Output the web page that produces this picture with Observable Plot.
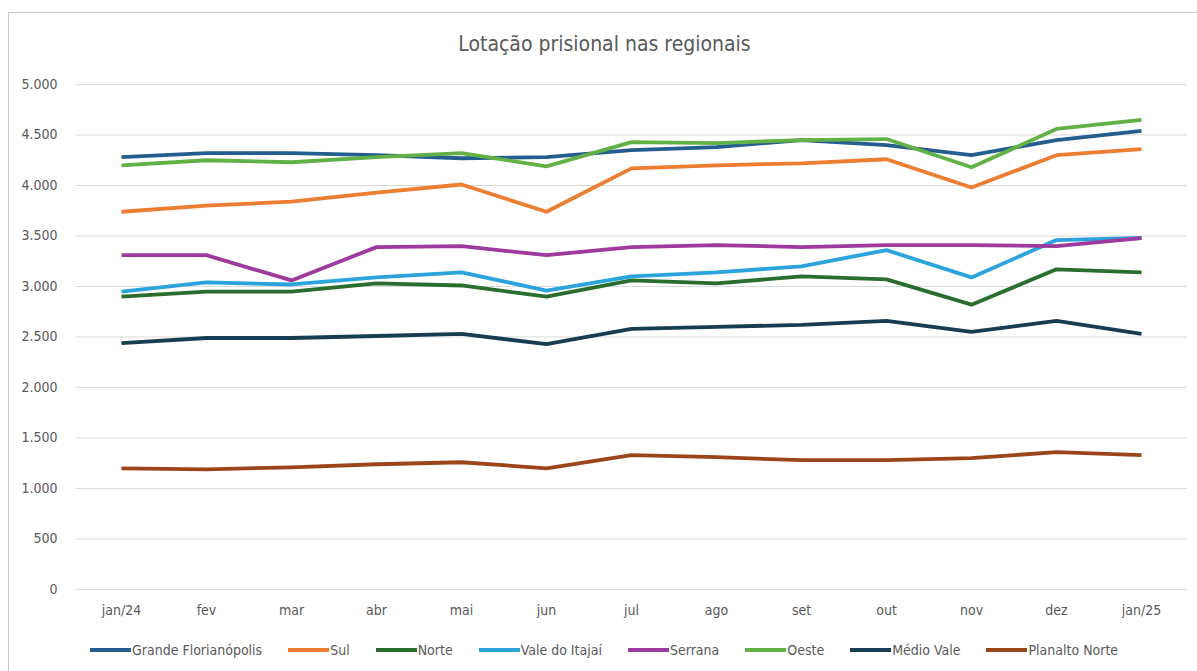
<!DOCTYPE html>
<html>
<head>
<meta charset="utf-8">
<script src="https://cdn.jsdelivr.net/npm/d3@7"></script>
<script src="https://cdn.jsdelivr.net/npm/@observablehq/plot@0.6"></script>
<style>
  html, body { margin: 0; padding: 0; background: #fff; }
  body { width: 1197px; height: 671px; overflow: hidden; position: relative;
         font-family: "Liberation Sans Narrow", "Arial Narrow", "DejaVu Sans Condensed", sans-serif; color: #595959; }
  #frame { position: absolute; left: 8px; top: 12px; width: 1200px; height: 700px; border: 1px solid #c8c8c8; box-sizing: border-box; }
  #title { position: absolute; top: 32px; left: 6px; width: 1197px; text-align: center; font-size: 21px; color: #595959; }
  #chart { position: absolute; left: 0; top: 60px; }
  #legend { position: absolute; top: 642px; left: 90px; display: flex; align-items: center; font-size: 14px; color: #595959; white-space: nowrap; }
  .item { display: flex; align-items: center; margin-right: 26px; }
  .sw { width: 41px; height: 4px; margin-right: 1px; }
</style>
</head>
<body>
<div id="frame"></div>
<div id="title">Lotação prisional nas regionais</div>
<div id="chart"></div>
<div id="legend"></div>
<script>
const months = ["jan/24","fev","mar","abr","mai","jun","jul","ago","set","out","nov","dez","jan/25"];
const seriesNames = ["Grande Florianópolis","Sul","Norte","Vale do Itajaí","Serrana","Oeste","Médio Vale","Planalto Norte"];
const seriesColors = ["#245e8f","#ed7d31","#2a6e2e","#2ba3dc","#9e3a9e","#62b146","#173d53","#9b461a"];

const grandeFlorianopolis = [4280,4320,4320,4300,4270,4280,4350,4380,4450,4400,4300,4450,4540];
const sul                 = [3740,3800,3840,3930,4010,3740,4170,4200,4220,4260,3980,4300,4360];
const norte               = [2900,2950,2950,3030,3010,2900,3060,3030,3100,3070,2820,3170,3140];
const valeDoItajai        = [2950,3040,3020,3090,3140,2960,3100,3140,3200,3360,3090,3460,3480];
const serrana             = [3310,3310,3060,3390,3400,3310,3390,3410,3390,3410,3410,3400,3480];
const oeste               = [4200,4250,4230,4280,4320,4190,4430,4420,4450,4460,4180,4560,4650];
const medioVale           = [2440,2490,2490,2510,2530,2430,2580,2600,2620,2660,2550,2660,2530];
const planaltoNorte       = [1200,1190,1210,1240,1260,1200,1330,1310,1280,1280,1300,1360,1330];

const yTicks = [0,500,1000,1500,2000,2500,3000,3500,4000,4500,5000];

const allSeries = [grandeFlorianopolis, sul, norte, valeDoItajai, serrana, oeste, medioVale, planaltoNorte];
const data = [];
seriesNames.forEach((name, i) => {
  allSeries[i].forEach((v, j) => data.push({series: name, month: months[j], value: v}));
});

const ptBR = d3.formatLocale({decimal: ",", thousands: ".", grouping: [3], currency: ["R$", ""]});
const fmt = ptBR.format(",");

const chart = Plot.plot({
  width: 1197,
  height: 560,
  marginLeft: 76,
  marginRight: 10,
  marginTop: 24,
  marginBottom: 31,
  style: {fontFamily: '"Liberation Sans Narrow", "Arial Narrow", "DejaVu Sans Condensed", sans-serif', fontSize: "14px", color: "#595959", background: "transparent"},
  x: {type: "point", domain: months, padding: 0, insetLeft: 44, insetRight: 45, label: null},
  y: {domain: [0, 5000], label: null},
  color: {domain: seriesNames, range: seriesColors},
  marks: [
    Plot.gridY(yTicks, {stroke: "#d9d9d9", strokeOpacity: 1, strokeWidth: 1}),
    Plot.axisY(yTicks, {tickSize: 0, tickPadding: 19, tickFormat: fmt, label: null, fontSize: 14}),
    Plot.axisX({tickSize: 0, tickPadding: 16, label: null, fontSize: 14}),
    Plot.line(data, {x: "month", y: "value", z: "series", stroke: "series", strokeWidth: 3.8, strokeLinejoin: "round", strokeLinecap: "butt"})
  ]
});
document.getElementById("chart").appendChild(chart);

const legend = document.getElementById("legend");
seriesNames.forEach((name, i) => {
  const item = document.createElement("div");
  item.className = "item";
  const sw = document.createElement("span");
  sw.className = "sw";
  sw.style.background = seriesColors[i];
  const t = document.createElement("span");
  t.textContent = name;
  item.appendChild(sw);
  item.appendChild(t);
  legend.appendChild(item);
});
</script>
</body>
</html>
